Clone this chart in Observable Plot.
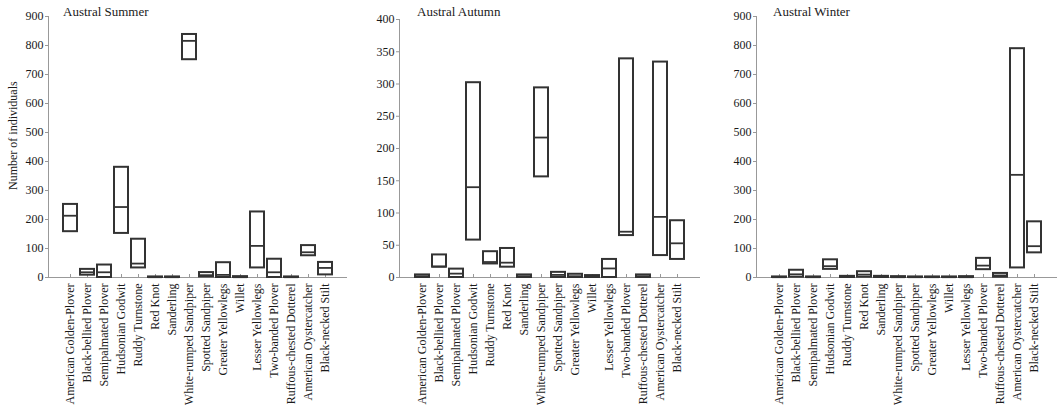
<!DOCTYPE html>
<html><head><meta charset="utf-8">
<script src="https://cdn.jsdelivr.net/npm/d3@7"></script>
<script src="https://cdn.jsdelivr.net/npm/@observablehq/plot@0.6"></script>
<style>
body{margin:0;background:#fff;}
#wrap{position:relative;width:1058px;height:405px;overflow:hidden;font-family:"Liberation Serif","Times New Roman",serif;color:#1a1a1a;}
#wrap svg text{font-family:"Liberation Serif","Times New Roman",serif !important;font-size:12px !important;}
.panel{position:absolute;top:0;}
.title{position:absolute;top:5px;font-size:13px;line-height:13px;white-space:nowrap;color:#1a1a1a;font-family:"Liberation Serif","Times New Roman",serif;}
.ylab{position:absolute;font-size:12px;line-height:12px;white-space:nowrap;transform-origin:0 0;transform:rotate(-90deg);color:#1a1a1a;font-family:"Liberation Serif","Times New Roman",serif;}
</style></head>
<body><div id="wrap"></div>
<script>
const species = ["American Golden-Plover","Black-bellied Plover","Semipalmated Plover","Hudsonian Godwit","Ruddy Turnstone","Red Knot","Sanderling","White-rumped Sandpiper","Spotted Sandpiper","Greater Yellowlegs","Willet","Lesser Yellowlegs","Two-banded Plover","Ruffous-chested Dotterel","American Oystercatcher","Black-necked Stilt"];

const summerMin = [158, 8, 0, 152, 33, 0, 0, 751, 2, 0, 0, 33, 0, 0, 75, 9];
const summerMed = [213, 18, 18, 243, 48, 1, 1, 816, 8, 9, 1, 109, 18, 1, 87, 33];
const summerMax = [252, 28, 43, 380, 132, 2, 2, 838, 17, 51, 3, 226, 63, 2, 110, 52];

const autumnMin = [0, 16, 0, 58, 21, 16, 0, 156, 0, 0, 0, 0, 65, 0, 34, 28];
const autumnMed = [2, 17, 6, 140, 24, 23, 2, 217, 4, 2, 1, 14, 71, 2, 94, 53];
const autumnMax = [4, 35, 13, 302, 40, 45, 4, 294, 8, 5, 3, 28, 339, 4, 334, 88];

const winterMin = [0, 1, 0, 28, 0, 1, 0, 0, 0, 0, 0, 0, 27, 1, 33, 85];
const winterMed = [1, 11, 1, 39, 2, 10, 2, 1, 1, 1, 1, 1, 41, 7, 354, 108];
const winterMax = [2, 25, 2, 61, 4, 20, 4, 3, 2, 2, 2, 3, 66, 14, 789, 192];

const summerTicks = [0,100,200,300,400,500,600,700,800,900];
const autumnTicks = [0,50,100,150,200,250,300,350,400];
const winterTicks = [0,100,200,300,400,500,600,700,800,900];

const titles = ["Austral Summer","Austral Autumn","Austral Winter"];
const yLabel = "Number of individuals";

const panels = [
  {title: titles[0], min: summerMin, med: summerMed, max: summerMax, ticks: summerTicks, left: 0, width: 350, mL: 48, mR: 3, mT: 16, titleX: 63},
  {title: titles[1], min: autumnMin, med: autumnMed, max: autumnMax, ticks: autumnTicks, left: 350, width: 353, mL: 49, mR: 3, mT: 19, titleX: 417},
  {title: titles[2], min: winterMin, med: winterMed, max: winterMax, ticks: winterTicks, left: 705, width: 353, mL: 51, mR: 1, mT: 16, titleX: 773}
];

const wrap = document.getElementById("wrap");
const axisGray = "#999";
const boxInk = "#333";
const font = "'Liberation Serif', 'Times New Roman', serif";

for (const p of panels) {
  const data = species.map((s, i) => ({species: s, min: p.min[i], med: p.med[i], max: p.max[i]}));
  const chart = Plot.plot({
    width: p.width,
    height: 405,
    marginLeft: p.mL,
    marginRight: p.mR,
    marginTop: p.mT,
    marginBottom: 128,
    style: {fontFamily: font, fontSize: "12px", color: "#1a1a1a", background: "white", overflow: "visible"},
    x: {type: "band", domain: species, paddingInner: 0.2, paddingOuter: 0.65, axis: null},
    y: {domain: [0, d3.max(p.ticks)], axis: null},
    marks: [
      Plot.frame({anchor: "left", stroke: axisGray}),
      Plot.ruleY([0], {stroke: axisGray}),
      Plot.axisY({ticks: p.ticks, tickSize: 3, tickPadding: 2, stroke: axisGray, fill: "#1a1a1a", fontSize: 12, fontFamily: font, label: null}),
      Plot.axisX({tickSize: 0, tickPadding: 6, tickRotate: -90, fill: "#1a1a1a", fontSize: 12, fontFamily: font, label: null}),
      Plot.ruleX(species, {x: d => d, y1: 0, y2: 0, insetTop: -3, stroke: axisGray}),
      Plot.rect(data, {x: "species", y1: "min", y2: "max", fill: "white", stroke: boxInk, strokeWidth: 2}),
      Plot.tickY(data, {x: "species", y: "med", stroke: boxInk, strokeWidth: 1.8})
    ]
  });
  const holder = document.createElement("div");
  holder.className = "panel";
  holder.style.left = p.left + "px";
  holder.appendChild(chart);
  wrap.appendChild(holder);

  const t = document.createElement("div");
  t.className = "title";
  t.style.left = p.titleX + "px";
  t.textContent = p.title;
  wrap.appendChild(t);
}

const yl = document.createElement("div");
yl.className = "ylab";
yl.textContent = yLabel;
yl.style.left = "7px";
yl.style.top = "190px";
wrap.appendChild(yl);
</script>
</body></html>
